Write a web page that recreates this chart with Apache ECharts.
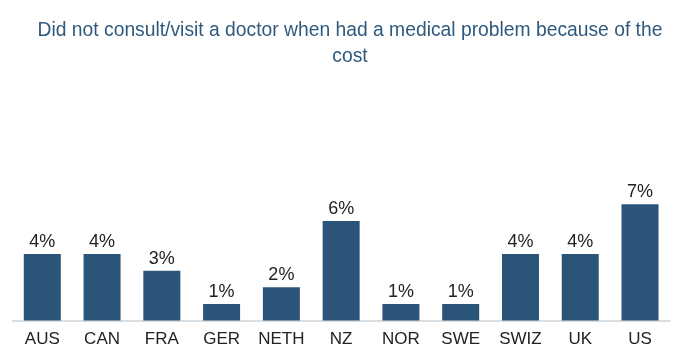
<!DOCTYPE html>
<html><head><meta charset="utf-8">
<script src="https://cdn.jsdelivr.net/npm/echarts@6/dist/echarts.min.js"></script>
<style>html,body{margin:0;padding:0;background:#fff}#c{width:700px;height:358px}</style>
</head><body><div id="c"></div>
<script>
var titleText = 'Did not consult/visit a doctor when had a medical problem because of the\ncost';
var categories = ['AUS','CAN','FRA','GER','NETH','NZ','NOR','SWE','SWIZ','UK','US'];
var values = [4,4,3,1,2,6,1,1,4,4,7];

var chart = echarts.init(document.getElementById('c'), null, {renderer:'canvas'});
chart.setOption({
  animation:false,
  title:{
    text:titleText,
    left:'center', top:13,
    textStyle:{fontFamily:'Liberation Sans, Arial, sans-serif', fontSize:19.3, fontWeight:'normal', color:'#2f5a7d', lineHeight:26}
  },
  grid:{left:12.4, right:30.1, top:154.5, bottom:37.5},
  xAxis:{
    type:'category', data:categories,
    axisTick:{show:false},
    axisLine:{lineStyle:{color:'#d0d3d6', width:1.5}},
    axisLabel:{interval:0, fontFamily:'Liberation Sans, Arial, sans-serif', fontSize:17, color:'#222', margin:10}
  },
  yAxis:{type:'value', min:0, max:10, show:false, splitLine:{show:false}},
  series:[{
    type:'bar', data:values, barWidth:37,
    itemStyle:{color:'#2a5478'},
    label:{show:true, position:'top', formatter:'{c}%', fontFamily:'Liberation Sans, Arial, sans-serif', fontSize:18, color:'#222', distance:3}
  }]
});
</script></body></html>
